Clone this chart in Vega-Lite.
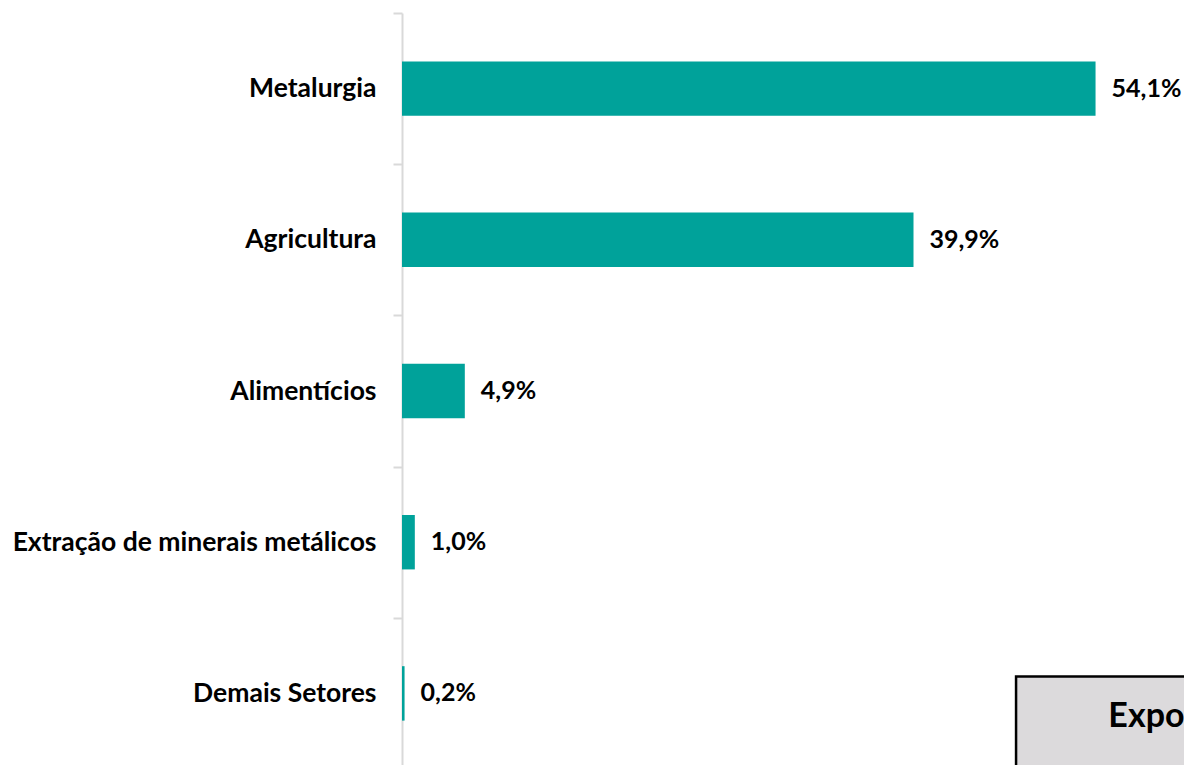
{
  "$schema": "https://vega.github.io/schema/vega-lite/v6.json",
  "autosize": {"type": "fit", "contains": "padding"},
  "width": 1184,
  "height": 765,
  "padding": {"left": 12, "top": 0, "right": 0, "bottom": -5},
  "background": "#ffffff",
  "config": {
    "view": {"stroke": null},
    "locale": {"number": {"decimal": ",", "thousands": ".", "grouping": [3], "currency": ["R$", ""]}},
    "font": "Lato"
  },
  "datasets": {
    "setores": [
      {"setor": "Metalurgia", "share": 0.541},
      {"setor": "Agricultura", "share": 0.399},
      {"setor": "Alimentícios", "share": 0.049},
      {"setor": "Extração de minerais metálicos", "share": 0.010},
      {"setor": "Demais Setores", "share": 0.002}
    ],
    "caixa": [
      {"setor": "Demais Setores", "inicio": 0.479, "fim": 0.75, "titulo": "Exportações"}
    ]
  },
  "layer": [
    {
      "data": {"name": "setores"},
      "mark": {"type": "bar", "color": "#00A29A", "height": {"band": 0.36}},
      "encoding": {
        "y": {
          "field": "setor", "type": "nominal", "sort": null,
          "scale": {"paddingInner": 0, "paddingOuter": 0},
          "axis": {
            "title": null,
            "tickBand": "extent",
            "tickSize": 9,
            "tickWidth": 2,
            "tickColor": "#D9D9D9",
            "domainColor": "#D9D9D9",
            "domainWidth": 2,
            "labelPadding": 17,
            "labelFont": "Lato",
            "labelFontWeight": "bold",
            "labelFontSize": 26.5,
            "labelColor": "#000000",
            "labelLimit": 500
          }
        },
        "x": {
          "field": "share", "type": "quantitative",
          "scale": {"domain": [0, 0.61], "nice": false, "zero": true},
          "axis": null
        }
      }
    },
    {
      "data": {"name": "setores"},
      "mark": {"type": "text", "align": "left", "baseline": "middle", "dx": 16, "font": "Lato", "fontWeight": "bold", "fontSize": 25, "color": "#000000"},
      "encoding": {
        "y": {"field": "setor", "type": "nominal", "sort": null},
        "x": {"field": "share", "type": "quantitative"},
        "text": {"field": "share", "type": "quantitative", "format": ".1%"}
      }
    },
    {
      "data": {"name": "caixa"},
      "mark": {"type": "bar", "clip": true, "fill": "#DCDADC", "stroke": "#000000", "strokeWidth": 2.5, "height": {"band": 0.62}, "yOffset": 30},
      "encoding": {
        "y": {"field": "setor", "type": "nominal", "sort": null},
        "x": {"field": "inicio", "type": "quantitative"},
        "x2": {"field": "fim"}
      }
    },
    {
      "data": {"name": "caixa"},
      "mark": {"type": "text", "clip": true, "align": "left", "baseline": "alphabetic", "dy": 34, "font": "Lato", "fontWeight": "bold", "fontSize": 34, "color": "#000000"},
      "encoding": {
        "y": {"field": "setor", "type": "nominal", "sort": null},
        "x": {"datum": 0.551, "type": "quantitative"},
        "text": {"field": "titulo"}
      }
    }
  ]
}
